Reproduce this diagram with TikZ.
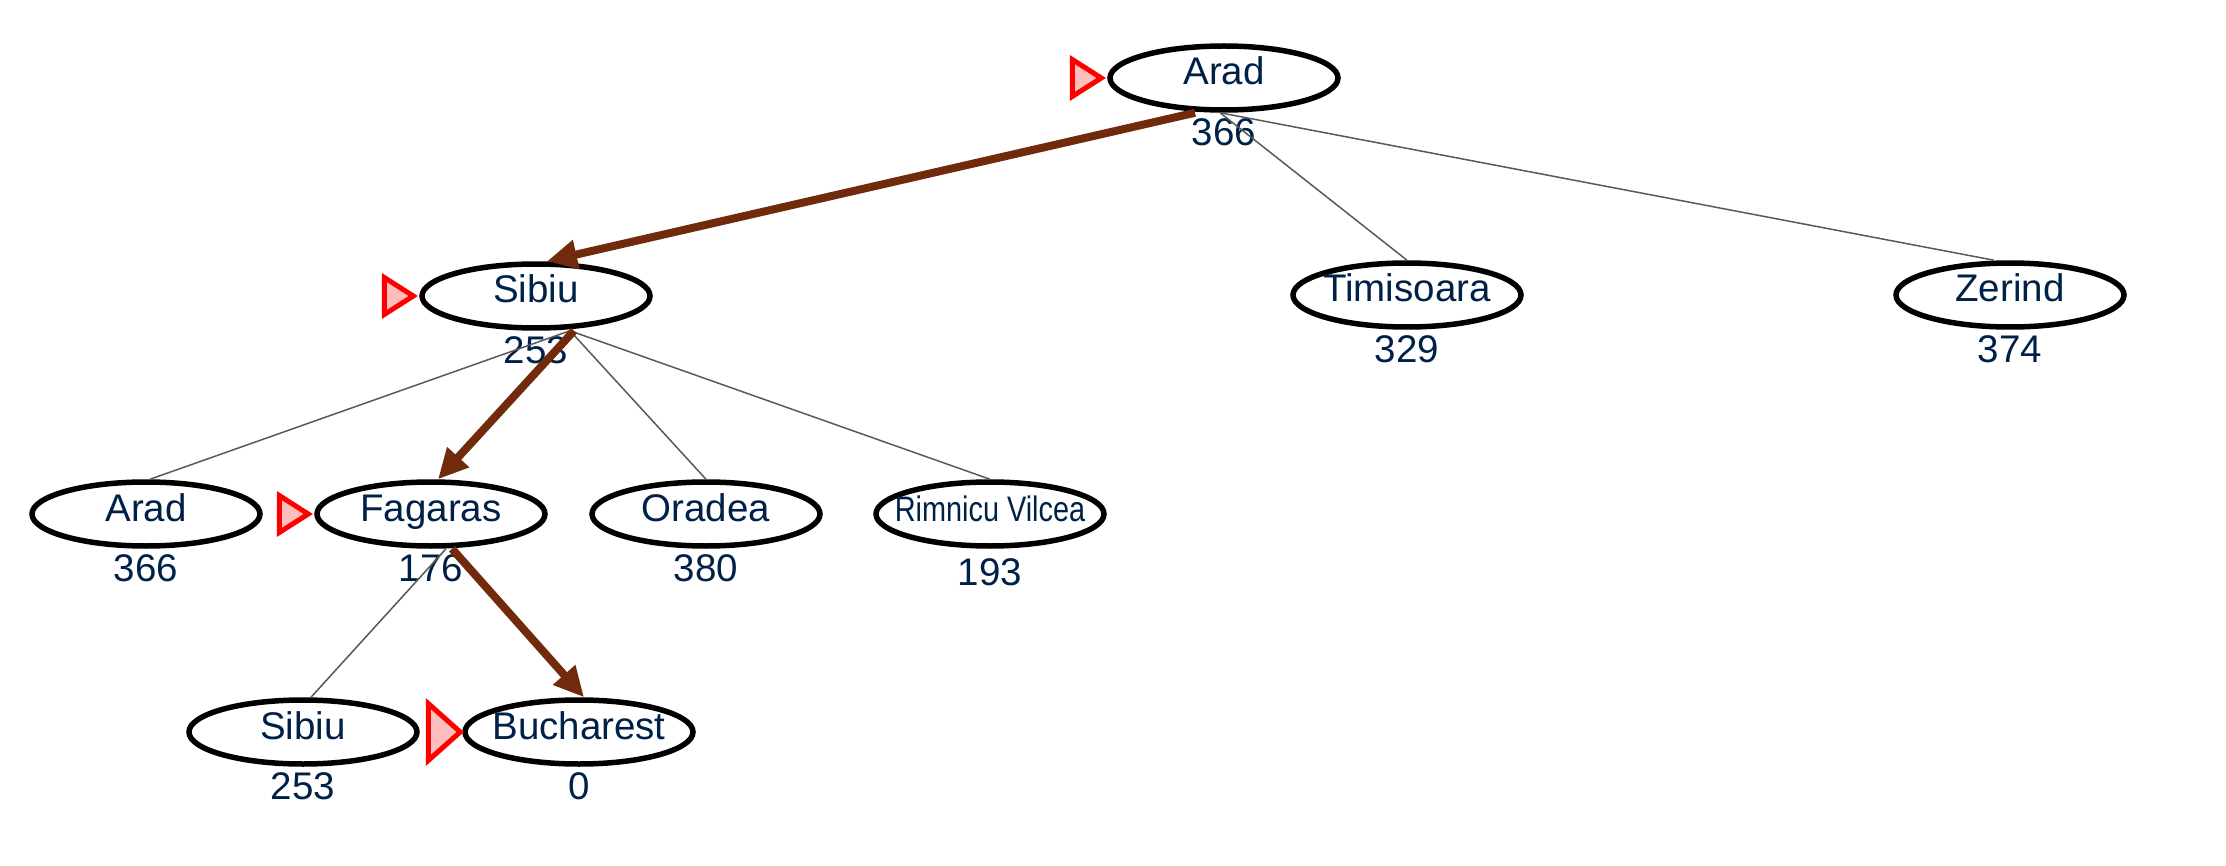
\documentclass[tikz,border=0pt]{standalone}
\usepackage{fontspec}
\setmainfont{Liberation Sans}
\usetikzlibrary{shapes,arrows.meta,positioning}
\definecolor{navytext}{RGB}{0,33,71}
\definecolor{routebrown}{RGB}{114,42,12}
\definecolor{markpink}{RGB}{255,190,190}

\begin{document}
\begin{tikzpicture}[x=1pt, y=-1pt, node distance=4.5pt,
    city/.style ={ellipse, draw=black, line width=5.5pt, fill=white,
      minimum width=228pt, minimum height=64pt, inner xsep=-22pt, inner ysep=0pt,
      text=navytext, font=\fontsize{38.5}{40}\selectfont,
      text height=28pt, text depth=14pt},
    hval/.style ={inner sep=0pt, text=navytext,
      font=\fontsize{38.5}{40}\selectfont, text height=28pt, text depth=0pt},
    tree/.style ={draw=black!65, line width=1.5pt},
    route/.style ={draw=routebrown, line width=8pt,
      -{Triangle[length=30pt,width=28pt]}},
    marker/.style ={draw=red, fill=markpink, line width=5pt}]

    \useasboundingbox (0,0) rectangle (2226,866);

    % Place nodes, level by level
    \node [city] (arad) at (1224,78) {Arad};
    \node [city] (sibiu) at (536,296) {Sibiu};
    \node [city] (timisoara) at (1407,295) {Timisoara};
    \node [city] (zerind) at (2010,295) {Zerind};
    \node [city] (arad2) at (146,514) {Arad};
    \node [city] (fagaras) at (431,514) {Fagaras};
    \node [city] (oradea) at (706,514) {Oradea};
    \node [city] (rimnicu) at (990,514) {\scalebox{0.75}[0.92]{Rimnicu Vilcea}};
    \node [city] (sibiu2) at (303,732) {Sibiu};
    \node [city] (bucharest) at (579,732) {Bucharest};

    % heuristic values under the cities
    \node [hval, below=of arad] (aradH) {366};
    \node [hval, below=of sibiu] (sibiuH) {253};
    \node [hval, below=of timisoara] (timisoaraH) {329};
    \node [hval, below=of zerind] (zerindH) {374};
    \node [hval, below=of arad2] (arad2H) {366};
    \node [hval, below=of fagaras] (fagarasH) {176};
    \node [hval, below=of oradea] (oradeaH) {380};
    \node [hval, below=9pt of rimnicu] (rimnicuH) {193};
    \node [hval, below=of sibiu2] (sibiu2H) {253};
    \node [hval, below=of bucharest] (bucharestH) {0};

    % markers of the expanded nodes
    \path [marker] ([xshift=-6pt]arad.west) -- ++(-29,-18.5) -- ++(0,37) -- cycle;
    \path [marker] ([xshift=-6pt]sibiu.west) -- ++(-29,-18.5) -- ++(0,37) -- cycle;
    \path [marker] ([xshift=-6pt]fagaras.west) -- ++(-29,-18.5) -- ++(0,37) -- cycle;
    \path [marker] ([xshift=-2pt]bucharest.west) -- ++(-32,-28.5) -- ++(0,57) -- cycle;

    \begin{scope}[every path/.style=tree]
    % paths from the root
    \path ([xshift=-4pt]arad.south) -- (timisoara.north);
    \path ([xshift=-4pt]arad.south) -- ([xshift=-16pt]zerind.north);

    % paths from Sibiu
    \path ([xshift=34pt]sibiu.south) -- ([xshift=4pt]arad2.north);
    \path ([xshift=34pt]sibiu.south) -- (oradea.north);
    \path ([xshift=34pt]sibiu.south) -- (rimnicu.north);

    % paths from Fagaras
    \path ([xshift=15pt]fagaras.south) -- ([xshift=8pt]sibiu2.north);
    \end{scope}

    % the route that is followed
    \path [route] ([xshift=-29pt]arad.south) -- ([xshift=11pt]sibiu.north);
    \path [route] ([xshift=38pt]sibiu.south) -- ([xshift=7pt]fagaras.north);
    \path [route] ([xshift=21pt]fagaras.south) -- ([xshift=5pt]bucharest.north);

\end{tikzpicture}
\end{document}
